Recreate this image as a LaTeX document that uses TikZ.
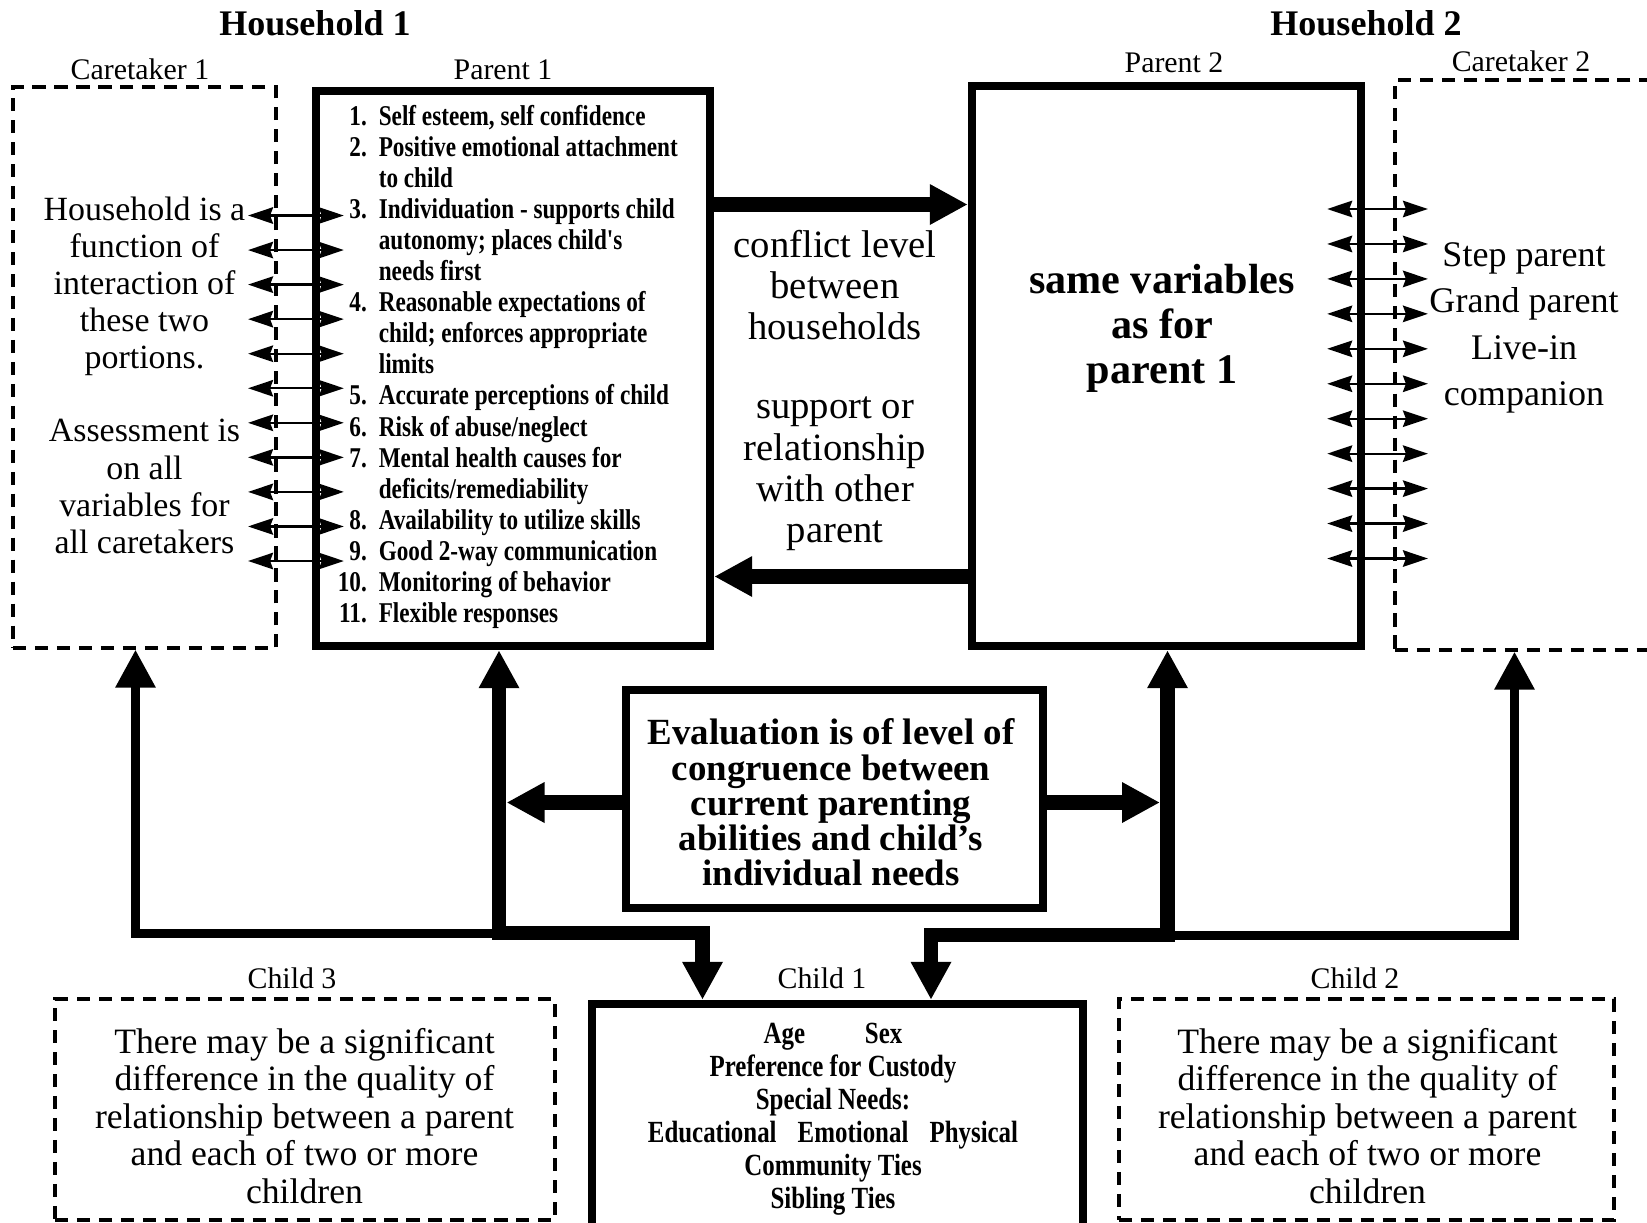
\documentclass[tikz,border=0pt]{standalone}
\usepackage{fontspec}
\setmainfont{Liberation Serif}
\newfontfamily\condfont[FakeStretch=0.81]{Liberation Serif}
\usetikzlibrary{arrows.meta,calc}

\begin{document}
\begin{tikzpicture}[>={Triangle[length=7.6mm,width=7.6mm]},
	solidbox/.style={draw, line width=4.8pt, inner sep=0pt},
	dashbox/.style={draw, line width=1.8pt, dash pattern=on 7.5pt off 5pt, inner sep=0pt},
	bigline/.style={line width=8.5pt},
	midline/.style={line width=5.1pt},
	dblarrow/.style={line width=1.3pt, >={Stealth[length=5mm,width=3.3mm,inset=0.6mm]}, <->},
	title/.style={font=\bfseries\fontsize{20.5}{24}\selectfont},
	boxlabel/.style={font=\fontsize{17}{20}\selectfont},
	sidetext/.style={align=center, font=\fontsize{19.3}{21.1}\selectfont},
	midtext/.style={align=center, font=\fontsize{22}{23.5}\selectfont},
	sametext/.style={align=center, font=\bfseries\fontsize{24}{25.5}\selectfont},
	steptext/.style={align=center, font=\fontsize{20.5}{26.3}\selectfont},
	evaltext/.style={align=center, font=\bfseries\fontsize{21}{20}\selectfont},
	childtext/.style={align=center, font=\fontsize{20.3}{21.3}\selectfont},
	needtext/.style={align=center, font=\condfont\bfseries\fontsize{17.5}{18.8}\selectfont},
	listtext/.style={inner sep=0pt, font=\condfont\bfseries\fontsize{16.3}{17.7}\selectfont}]
	\useasboundingbox (0,0) rectangle (32.94,-24.44);
	\clip (0,0) rectangle (32.94,-24.44);

	\node[title] (hh1) at (6.30,-0.46) {Household 1};
	\node[title] (hh2) at (27.32,-0.46) {Household 2};
	\node[boxlabel] (c1lab) at (2.80,-1.39) {Caretaker 1};
	\node[boxlabel] (p1lab) at (10.06,-1.39) {Parent 1};
	\node[boxlabel] (p2lab) at (23.48,-1.26) {Parent 2};
	\node[boxlabel] (c2lab) at (30.42,-1.22) {Caretaker 2};

	\node[dashbox, minimum width=5.26cm, minimum height=11.22cm] (c1) at (2.89,-7.35) {};
	\node[solidbox, minimum width=7.88cm, minimum height=11.10cm] (p1) at (10.26,-7.37) {};
	\node[solidbox, minimum width=7.78cm, minimum height=11.20cm] (p2) at (23.33,-7.32) {};
	\node[dashbox, minimum width=6.10cm, minimum height=11.40cm] (c2) at (30.95,-7.30) {};

	\node[listtext, anchor=base west] (p1list) at (6.75,-2.50) {\begin{tabular}[t]{@{}r@{\hspace{6.8pt}}l@{}}
		1. & Self esteem, self confidence\\
		2. & Positive emotional attachment\\
		& to child\\
		3. & Individuation - supports child\\
		& autonomy; places child's\\
		& needs first\\
		4. & Reasonable expectations of\\
		& child; enforces appropriate\\
		& limits\\
		5. & Accurate perceptions of child\\
		6. & Risk of abuse/neglect\\
		7. & Mental health causes for\\
		& deficits/remediability\\
		8. & Availability to utilize skills\\
		9. & Good 2-way communication\\
		10. & Monitoring of behavior\\
		11. & Flexible responses
	\end{tabular}};

	\node[sidetext] (c1top) at (2.89,-5.72) {Household is a\\function of\\interaction of\\these two\\portions.};
	\node[sidetext] (c1bot) at (2.89,-9.73) {Assessment is\\on all\\variables for\\all caretakers};
	\node[midtext] (conflict) at (16.70,-5.70) {conflict level\\between\\households};
	\node[midtext] (support) at (16.70,-9.48) {support or\\relationship\\with other\\parent};
	\node[sametext] (same) at (23.24,-6.57) {same variables\\as for\\parent 1};
	\node[steptext] (others) at (30.48,-6.56) {Step parent\\Grand parent\\Live-in\\companion};

	\node[solidbox, minimum width=8.34cm, minimum height=4.36cm] (ev) at (16.69,-15.98) {};
	\node[evaltext] (evtxt) at (16.62,-16.05)
		{Evaluation is of level of\\congruence between\\current parenting\\abilities and child's\\individual needs};

	\node[boxlabel] (ch3lab) at (5.84,-19.56) {Child 3};
	\node[boxlabel] (ch1lab) at (16.44,-19.56) {Child 1};
	\node[boxlabel] (ch2lab) at (27.10,-19.56) {Child 2};
	\node[dashbox, minimum width=10.00cm, minimum height=4.42cm] (ch3) at (6.10,-22.19) {};
	\node[solidbox, minimum width=9.82cm, minimum height=5.12cm] (ch1) at (16.75,-22.64) {};
	\node[dashbox, minimum width=9.90cm, minimum height=4.42cm] (ch2) at (27.33,-22.19) {};
	\node[childtext] (ch3txt) at (6.09,-22.32) {There may be a significant\\difference in the quality of\\relationship between a parent\\and each of two or more\\children};
	\node[needtext] (ch1txt) at (16.66,-22.38) {Age\hspace{34pt}Sex\\Preference for Custody\\Special Needs:\\Educational\hspace{12pt}Emotional\hspace{12pt}Physical\\Community Ties\\Sibling Ties};
	\node[childtext] (ch2txt) at (27.35,-22.32) {There may be a significant\\difference in the quality of\\relationship between a parent\\and each of two or more\\children};

	\foreach \i in {0,...,10} {
		\pgfmathsetmacro{\ly}{-4.31-0.691*\i}
		\pgfmathsetmacro{\ry}{-4.18-0.699*\i}
		\draw[dblarrow] ($(c1.east |- 0,\ly)+(-0.59,0)$) -- ($(p1.west |- 0,\ly)+(0.64,0)$);
		\draw[dblarrow] ($(p2.east |- 0,\ry)+(-0.76,0)$) -- ($(c2.west |- 0,\ry)+(0.69,0)$);
	}

	\coordinate (conf) at (0,-4.09);
	\coordinate (supp) at (0,-11.53);
	\draw[bigline, ->] (p1.east |- conf) -- (p2.west |- conf);
	\draw[bigline, ->] (p2.west |- supp) -- (p1.east |- supp);

	\coordinate (lbus) at (0,-18.66);
	\coordinate (rbus) at (0,-18.70);
	\coordinate (evmid) at (0,-16.05);
	\coordinate (c1link) at (2.71,0);
	\coordinate (p1link) at (9.98,0);
	\coordinate (ch1l) at (14.05,0);
	\coordinate (ch1r) at (18.62,0);
	\coordinate (p2link) at (23.35,0);
	\coordinate (c2link) at (30.29,0);

	\draw[midline, ->] (p1link |- lbus) -- (c1link |- lbus) -- (c1link |- c1.south);
	\draw[bigline, <->] (p1link |- p1.south) -- (p1link |- lbus) -- (ch1l |- lbus) -- (ch1l |- ch1.north);
	\draw[midline, ->] (p2link |- rbus) -- (c2link |- rbus) -- (c2link |- c2.south);
	\draw[bigline, <->] (p2link |- p2.south) -- (p2link |- rbus) -- (ch1r |- rbus) -- (ch1r |- ch1.north);

	\draw[bigline, ->, shorten >=1.5mm] (ev.west |- evmid) -- (p1link |- evmid);
	\draw[bigline, ->, shorten >=1.5mm] (ev.east |- evmid) -- (p2link |- evmid);
\end{tikzpicture}
\end{document}
